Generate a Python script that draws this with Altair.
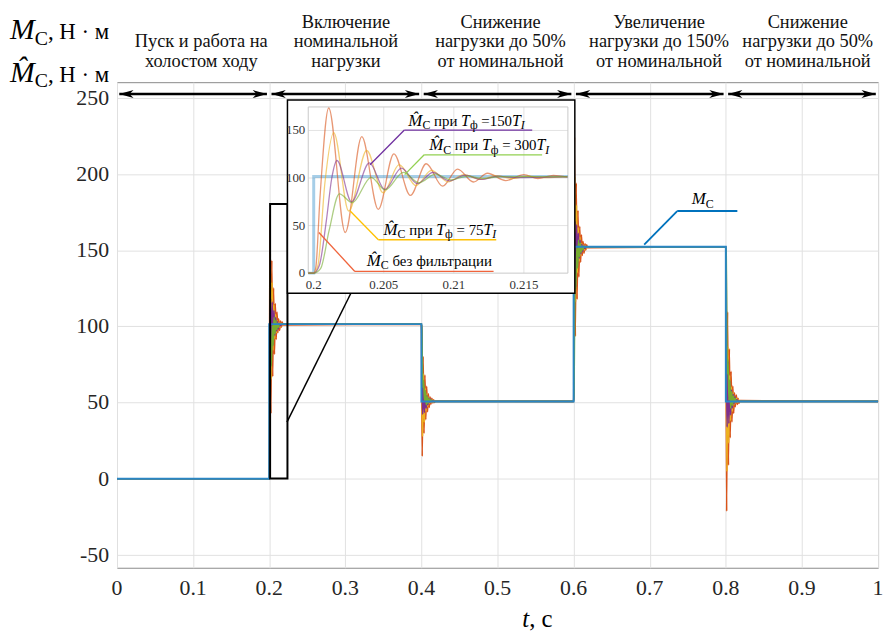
import altair as alt
import pandas as pd

# ---------------- data ----------------
# load torque M_C (step signal)
mc_t = [0.0, 0.2, 0.4, 0.6, 0.8, 1.0]
mc_v = [0.0, 101.5, 50.75, 152.25, 50.75, 50.75]

series = ["raw", "f75", "f150", "f300"]
# transient of each estimate after the 0 -> 101.5 step:
# time after the step in ms, value in N·m
raw_ms = [0, 0.15, 0.45, 1.07, 2.25, 3.43, 4.61, 5.72, 6.9, 8.03, 9.2, 10.27, 11.4, 12.4, 13.7, 15.0, 16.0, 17.1, 18.1]
raw_v = [0, 6, 80, 173.6, 42.7, 143.4, 67, 125.4, 81.7, 115, 91.4, 109.4, 95.8, 105, 97.3, 103.5, 99.4, 102.8, 101]
f75_ms = [0, 0.3, 0.8, 1.43, 2.5, 3.78, 4.96, 6.1, 7.3, 8.4, 9.6, 10.7, 11.9, 13.0, 14.2, 15.3, 16.5, 18.1]
f75_v = [0, 8, 95, 147.6, 65.3, 128.9, 84.4, 114, 92, 108, 96, 103.5, 98.5, 102.5, 99.5, 102, 100.5, 101.5]
f150_ms = [0, 0.4, 0.9, 1.29, 1.66, 2.7, 3.97, 5.08, 6.26, 7.4, 8.5, 9.7, 10.8, 12.0, 13.1, 14.3, 18.1]
f150_v = [0, 8, 55, 100, 118.4, 75, 116, 87.9, 110.4, 94, 105.8, 97, 103, 98.5, 102, 100.5, 101.5]
f300_ms = [0, 0.5, 1.1, 1.83, 2.75, 4.1, 5.1, 6.4, 7.5, 8.7, 9.8, 11.0, 12.1, 13.3, 18.1]
f300_v = [0, 5, 45, 83.3, 74, 100.7, 87.5, 106, 95, 104, 98, 102, 99.5, 101.5, 101.5]
resp = {"raw": (raw_ms, raw_v), "f75": (f75_ms, f75_v),
        "f150": (f150_ms, f150_v), "f300": (f300_ms, f300_v)}

x_ticks = [0, 0.1, 0.2, 0.3, 0.4, 0.5, 0.6, 0.7, 0.8, 0.9, 1]
y_ticks = [-50, 0, 50, 100, 150, 200, 250]
ins_x_ticks = [0.2, 0.205, 0.21, 0.215]
ins_y_ticks = [0, 50, 100, 150]

sec_start = [0.0, 0.2, 0.4, 0.6, 0.8]
sec_end = [0.2, 0.4, 0.6, 0.8, 1.0]
sec_lines = [
    ["Пуск и работа на", "холостом ходу"],
    ["Включение", "номинальной", "нагрузки"],
    ["Снижение", "нагрузки до 50%", "от номинальной"],
    ["Увеличение", "нагрузки до 150%", "от номинальной"],
    ["Снижение", "нагрузки до 50%", "от номинальной"],
]

# ---------------- layout ----------------
X0, Y0 = 118, 80          # page position of the plot origin
W, H = 768, 490
FONT = "Liberation Serif"
C_MC = "#2A86C5"
COL = {"raw": "#D95319", "f75": "#EDB120", "f150": "#7E2F8E", "f300": "#77AC30"}
Y_DOM = [-58.5, 260.4]

# inset geometry (page px): t=0.2 at x=316.5, 14.14 px per ms; value 0 at y=272.7, 0.96 px per unit
I_T0X, I_PPS = 316.5, 14140.0
I_V0Y, I_PPU = 272.7, 0.96
main_x = alt.Scale(domain=[0, 1], nice=False, zero=False)
main_y = alt.Scale(domain=Y_DOM, nice=False, zero=False)
ins_x = alt.Scale(domain=[0.2 - (I_T0X - X0) / I_PPS, 0.2 + (X0 + W - I_T0X) / I_PPS],
                  nice=False, zero=False)
ins_y = alt.Scale(domain=[(I_V0Y - (Y0 + H)) / I_PPU, (I_V0Y - Y0) / I_PPU], nice=False, zero=False)
X_LO, X_HI, Y_HI = 0.19961, 0.21814, 174.7


def rx(xp):
    return xp - X0


def ry(yp):
    return yp - Y0


# ---------------- build tables ----------------
step0 = mc_v[1] - mc_v[0]
main_rows, ins_rows = [], []
for s in series:
    ms, vv = resp[s]
    main_rows.append({"s": s, "t": 0.0, "v": mc_v[0]})
    for i in range(1, len(mc_t) - 1):
        ts, before, after = mc_t[i], mc_v[i - 1], mc_v[i]
        for m, r in zip(ms, vv):
            main_rows.append({"s": s, "t": ts + m / 1000.0, "v": before + (after - before) * r / step0})
    main_rows.append({"s": s, "t": mc_t[-1], "v": mc_v[-1]})
    ins_rows.append({"s": s, "t": X_LO, "v": mc_v[0]})
    for m, r in zip(ms, vv):
        t = mc_t[1] + m / 1000.0
        if t <= X_HI:
            ins_rows.append({"s": s, "t": t, "v": r})
main_df = pd.DataFrame(main_rows)
ins_df = pd.DataFrame(ins_rows)


def mc_at(t):
    val = mc_v[0]
    for tt, vv in zip(mc_t, mc_v):
        if tt <= t:
            val = vv
    return val


ins_mc_t = [X_LO] + [t for t in mc_t if X_LO < t < X_HI] + [X_HI]
ins_mc = pd.DataFrame({"t": ins_mc_t, "v": [mc_at(t) for t in ins_mc_t]})

# ---- rich text (pieces with italics / subscripts) ----
REG = {' ': .25, ',': .25, '·': .25, '=': .564, '%': .833, 'Н': .722, 'C': .667,
       'а': .444, 'б': .5, 'в': .47, 'г': .41, 'д': .5, 'е': .444, 'з': .4, 'и': .535,
       'й': .535, 'к': .48, 'л': .5, 'м': .62, 'н': .535, 'о': .5, 'п': .535, 'р': .5,
       'с': .444, 'т': .45, 'у': .5, 'ф': .65, 'х': .5, 'ц': .535, 'ь': .47}
ITA = {'M': .833, 'T': .556, 'I': .333, 't': .278, '\u0302': 0}


def width(text, size, it):
    tab = ITA if it else REG
    return sum(tab.get(ch, REG.get(ch, .5)) for ch in text) * size


def rich(xp, yp, pieces):
    out, x = [], rx(xp)
    for text, size, it, dy in pieces:
        lead = len(text) - len(text.lstrip(" "))
        shown = text.strip(" ")
        out.append({"text": shown, "x": x + lead * 0.25 * size, "y": ry(yp) + dy, "size": size, "it": it})
        x += width(text, size, it)
    return out


MH = "M\u0302"
rich_rows = []
rich_rows += rich(10, 36, [("M", 30, True, 0), ("C", 20, False, 6), (", Н · м", 23, False, 0)])
rich_rows += rich(10, 80, [(MH, 30, True, 0), ("C", 20, False, 5), (", Н · м", 23, False, 0)])
rich_rows += rich(527, 630, [("t", 25, True, 0), (", с", 25, False, 0)])
rich_rows += rich(698, 203, [("M", 17, True, 0), ("C", 12, False, 4)])


def tf(x0, y0, val):
    return rich(x0, y0, [(MH, 17, True, 0), ("C", 12, False, 3.5), (" при ", 15, False, 0),
                         ("T", 16, True, 0), ("ф", 12, False, 3.5), (val, 15, False, 0),
                         ("T", 16, True, 0), ("I", 12, True, 3.5)])


rich_rows += tf(412, 124, " =150")
rich_rows += tf(433, 148.5, " = 300")
rich_rows += tf(387, 234, " = 75")
rich_rows += rich(370, 265.5, [(MH, 17, True, 0), ("C", 12, False, 3.5), (" без фильтрации", 15, False, 0)])
rich_df = pd.DataFrame(rich_rows)

sec_cx = [203, 349, 505, 665, 815]
sec_rows = []
for cx, lines in zip(sec_cx, sec_lines):
    bases = [25, 45, 64.5][3 - len(lines):]
    for txt, b in zip(lines, bases):
        sec_rows.append({"text": txt, "x": rx(cx), "y": ry(b)})
sec_df = pd.DataFrame(sec_rows)

# leader / underline segments (page px)
segs = [
    (408, 128.3, 537, 128.3, "#7030A0", 1.3), (408, 128.3, 373.3, 163.3, "#7030A0", 1.3),
    (428, 153.3, 547, 153.3, "#92D050", 1.3), (428, 153.3, 408.3, 173.3, "#92D050", 1.3),
    (381.7, 239, 500.7, 239, "#FFC000", 1.3), (381.7, 239, 353.3, 210, "#FFC000", 1.3),
    (358, 271, 498, 271, "#F0643C", 1.3), (358, 271, 321.7, 231.7, "#F0643C", 1.3),
    (683.3, 210, 744, 210, "#0072BD", 1.8), (683.3, 210, 650, 244, "#0072BD", 1.8),
    (289.5, 423, 354, 293, "black", 1.5),
]
seg_df = pd.DataFrame([{"x": rx(a), "y": ry(b), "x2": rx(c), "y2": ry(d), "c": col, "w": w}
                       for a, b, c, d, col, w in segs])

GAP = 0.003
ARROW_Y = 252.6
arr_df = pd.DataFrame({"a": [s + GAP for s in sec_start], "b": [e - GAP for e in sec_end]})
arr_df["y"] = ARROW_Y

one = pd.DataFrame({"k": [0]})

# ---------------- layers ----------------
NOAX = None
layers = []

# grid-only axes (labels drawn as text marks below)
x_axis = alt.Axis(values=x_ticks, grid=True, gridColor="#e1e1e1", labels=False,
                  ticks=False, domain=False, title=None)
y_axis = alt.Axis(values=y_ticks, grid=True, gridColor="#e1e1e1", labels=False,
                  ticks=False, domain=False, title=None)
for idx, s in enumerate(series):
    layers.append(alt.Chart(main_df[main_df.s == s]).mark_line(
        color=COL[s], strokeWidth=1.6, interpolate="monotone").encode(
        x=alt.X("t:Q", scale=main_x, axis=x_axis if idx == 0 else NOAX),
        y=alt.Y("v:Q", scale=main_y, axis=y_axis if idx == 0 else NOAX)))

layers.append(alt.Chart(pd.DataFrame({"t": mc_t, "v": mc_v})).mark_line(
    color=C_MC, strokeWidth=2, interpolate="step-after").encode(
    x=alt.X("t:Q", scale=main_x, axis=NOAX), y=alt.Y("v:Q", scale=main_y, axis=NOAX)))

# main tick labels
xl = pd.DataFrame({"t": x_ticks, "lab": [("%g" % v) for v in x_ticks]})
xl["y"] = Y_DOM[0]
layers.append(alt.Chart(xl).mark_text(align="center", baseline="top", dy=11, font=FONT,
                                      fontSize=22, color="#262626").encode(
    x=alt.X("t:Q", scale=main_x, axis=NOAX), y=alt.Y("y:Q", scale=main_y, axis=NOAX), text="lab:N"))
yl = pd.DataFrame({"v": y_ticks, "lab": [str(v) for v in y_ticks]})
yl["x"] = 0.0
layers.append(alt.Chart(yl).mark_text(align="right", baseline="middle", dx=-8, font=FONT,
                                      fontSize=22, color="#262626").encode(
    x=alt.X("x:Q", scale=main_x, axis=NOAX), y=alt.Y("v:Q", scale=main_y, axis=NOAX), text="lab:N"))

# zoom rectangle
layers.append(alt.Chart(one).mark_rect(fill=None, stroke="black", strokeWidth=2, fillOpacity=0).encode(
    x=alt.value(rx(272.5)), x2=alt.value(rx(290)), y=alt.value(ry(203)), y2=alt.value(ry(480))))

# arrows
layers.append(alt.Chart(arr_df).mark_rule(color="black", strokeWidth=2.5).encode(
    x=alt.X("a:Q", scale=main_x, axis=NOAX), x2="b:Q", y=alt.Y("y:Q", scale=main_y, axis=NOAX)))
layers.append(alt.Chart(arr_df).mark_point(
    shape="M0,0 L1.6,-0.45 L1.15,0 L1.6,0.45 Z", filled=True, size=324, color="black", opacity=1).encode(
    x=alt.X("a:Q", scale=main_x, axis=NOAX), y=alt.Y("y:Q", scale=main_y, axis=NOAX)))
layers.append(alt.Chart(arr_df).mark_point(
    shape="M0,0 L-1.6,-0.45 L-1.15,0 L-1.6,0.45 Z", filled=True, size=324, color="black", opacity=1).encode(
    x=alt.X("b:Q", scale=main_x, axis=NOAX), y=alt.Y("y:Q", scale=main_y, axis=NOAX)))

# inset box
layers.append(alt.Chart(one).mark_rect(fill="white", stroke="black", strokeWidth=1.5).encode(
    x=alt.value(rx(290)), x2=alt.value(rx(580)), y=alt.value(ry(98)), y2=alt.value(ry(293))))

# inset grid & frame
vg = pd.DataFrame({"t": ins_x_ticks[1:]})
vg["y0"], vg["y1"] = 0.0, Y_HI
hg = pd.DataFrame({"v": ins_y_ticks[1:]})
hg["x0"], hg["x1"] = X_LO, X_HI
layers.append(alt.Chart(vg).mark_rule(color="#e3e3e3", strokeWidth=1).encode(
    x=alt.X("t:Q", scale=ins_x, axis=NOAX), y=alt.Y("y0:Q", scale=ins_y, axis=NOAX), y2="y1:Q"))
layers.append(alt.Chart(hg).mark_rule(color="#e3e3e3", strokeWidth=1).encode(
    y=alt.Y("v:Q", scale=ins_y, axis=NOAX), x=alt.X("x0:Q", scale=ins_x, axis=NOAX), x2="x1:Q"))
fr = pd.DataFrame({"x0": [X_LO], "x1": [X_HI], "y0": [0.0], "y1": [Y_HI]})
layers.append(alt.Chart(fr).mark_rect(fill=None, fillOpacity=0, stroke="#c8c8c8", strokeWidth=1).encode(
    x=alt.X("x0:Q", scale=ins_x, axis=NOAX), x2="x1:Q",
    y=alt.Y("y0:Q", scale=ins_y, axis=NOAX), y2="y1:Q"))
iyl = pd.DataFrame({"v": ins_y_ticks, "lab": [str(v) for v in ins_y_ticks]})
iyl["x"] = X_LO
layers.append(alt.Chart(iyl).mark_text(align="right", baseline="middle", dx=-3, font=FONT,
                                       fontSize=13, color="#333333").encode(
    x=alt.X("x:Q", scale=ins_x, axis=NOAX), y=alt.Y("v:Q", scale=ins_y, axis=NOAX), text="lab:N"))
ixl = pd.DataFrame({"t": ins_x_ticks, "lab": [str(v) for v in ins_x_ticks]})
ixl["y"] = 0.0
layers.append(alt.Chart(ixl).mark_text(align="center", baseline="top", dy=6, font=FONT,
                                       fontSize=13, color="#333333").encode(
    x=alt.X("t:Q", scale=ins_x, axis=NOAX), y=alt.Y("y:Q", scale=ins_y, axis=NOAX), text="lab:N"))

# inset curves
layers.append(alt.Chart(ins_mc).mark_line(color="#0072BD", strokeWidth=3, opacity=0.35,
                                          interpolate="step-after").encode(
    x=alt.X("t:Q", scale=ins_x, axis=NOAX), y=alt.Y("v:Q", scale=ins_y, axis=NOAX)))
for s in series:
    layers.append(alt.Chart(ins_df[ins_df.s == s]).mark_line(
        color=COL[s], strokeWidth=1.3, opacity=0.6, interpolate="monotone").encode(
        x=alt.X("t:Q", scale=ins_x, axis=NOAX), y=alt.Y("v:Q", scale=ins_y, axis=NOAX)))

# annotation lines
layers.append(alt.Chart(seg_df).mark_rule().encode(
    x=alt.X("x:Q", scale=None, axis=NOAX), y=alt.Y("y:Q", scale=None, axis=NOAX),
    x2="x2:Q", y2="y2:Q", color=alt.Color("c:N", scale=None),
    strokeWidth=alt.StrokeWidth("w:Q", scale=None)))

# section labels
layers.append(alt.Chart(sec_df).mark_text(align="center", baseline="alphabetic", font=FONT,
                                          fontSize=18.5, color="#111111").encode(
    x=alt.X("x:Q", scale=None, axis=NOAX), y=alt.Y("y:Q", scale=None, axis=NOAX), text="text:N"))

# rich texts
for it in (False, True):
    layers.append(alt.Chart(rich_df[rich_df.it == it]).mark_text(
        align="left", baseline="alphabetic", font=FONT, color="black",
        fontStyle="italic" if it else "normal").encode(
        x=alt.X("x:Q", scale=None, axis=NOAX), y=alt.Y("y:Q", scale=None, axis=NOAX),
        text="text:N", size=alt.Size("size:Q", scale=None)))

chart = alt.layer(*layers).resolve_scale(x="independent", y="independent").properties(
    width=W, height=H, autosize=alt.AutoSizeParams(type="none"),
    padding={"left": 110, "top": 72, "right": 7, "bottom": 64},
    background="white",
).configure_view(stroke="#8a8a8a", strokeWidth=1)

chart.save("out.html", embed_options={"renderer": "svg", "actions": False})
